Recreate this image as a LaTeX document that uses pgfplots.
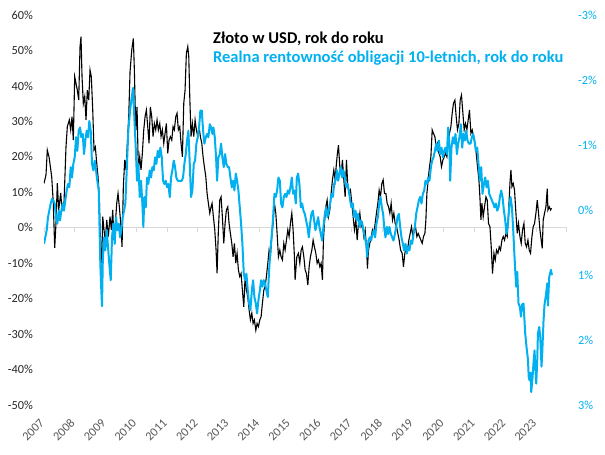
\documentclass[border=0pt]{standalone}
\usepackage{fontspec}
\setmainfont{Carlito}
\usepackage{graphicx}
\usepackage{pgfplots}
\pgfplotsset{compat=1.18}
\definecolor{xlblue}{HTML}{00B0F0}
\definecolor{zeroline}{HTML}{D9D9D9}
\definecolor{lblgray}{HTML}{595959}
\begin{document}
\begin{tikzpicture}
\pgfplotsset{
  base/.style={scale only axis, width=523bp, height=390bp,
    xmin=2007, xmax=2024,
    /pgf/number format/assume math mode=true,
    /pgf/number format/1000 sep={},
  },
}
% zero line with ticks
\begin{axis}[base, ymin=-50, ymax=60,
  axis x line=middle, axis y line=none,
  xtick={2007,...,2024}, xticklabels={},
  ytick=\empty,
  x axis line style={-, draw=zeroline, line width=1bp},
  xtick style={draw=zeroline, line width=1bp},
  major tick length=4bp, tick align=outside]
\coordinate (sw) at (rel axis cs:0,0);
\coordinate (ne) at (rel axis cs:1,1);
\end{axis}
% gold in USD (left axis)
\begin{axis}[base, ymin=-50, ymax=60,
  axis line style={draw=none},
  major tick length=0pt, tick style={draw=none},
  xtick={2007,...,2023},
  ytick={-50,-40,...,60},
  xticklabel={\rotatebox{45}{\pgfmathprintnumber{\tick}}},
  yticklabel={\pgfmathprintnumber{\tick}\%},
  xticklabel style={font=\fontsize{12.3bp}{14bp}\selectfont, text=lblgray, anchor=north east, inner sep=0pt, yshift=-13bp, xshift=1bp},
  yticklabel style={font=\fontsize{12.3bp}{14bp}\selectfont, text=black!85, anchor=east, inner sep=0pt, xshift=-11bp},
]
\addplot[black, line width=1.1bp] table {
2007.000 12.5
2007.065 14.9
2007.107 21.9
2007.163 20
2007.195 18
2007.250 14.4
2007.302 7
2007.348 -5.7
2007.390 1.3
2007.433 12.6
2007.478 5
2007.543 9.8
2007.585 5
2007.650 7
2007.715 22.8
2007.758 28.5
2007.823 30.4
2007.868 27.6
2007.911 31.3
2007.953 24.7
2007.998 42.6
2008.041 40.7
2008.083 38.8
2008.128 36
2008.171 51
2008.203 53.9
2008.236 42.6
2008.278 35
2008.324 37
2008.366 30.4
2008.408 38.8
2008.454 36
2008.496 44.5
2008.538 42.6
2008.584 33.2
2008.626 21.9
2008.668 22.8
2008.714 18.2
2008.756 14.4
2008.798 8.7
2008.821 0.3
2008.844 -6.3
2008.876 -10
2008.909 3.1
2008.951 -0.6
2008.993 -4.4
2009.039 2.2
2009.091 -2.5
2009.146 3.1
2009.189 -0.6
2009.234 5
2009.276 -3.5
2009.319 1.2
2009.364 6.9
2009.406 9.7
2009.449 5.9
2009.494 1.2
2009.537 -5.4
2009.579 11.6
2009.624 19.1
2009.667 16.3
2009.709 23.8
2009.754 31.3
2009.797 44
2009.852 50.1
2009.904 53.4
2009.937 44.5
2009.982 27.6
2010.024 34.1
2010.067 16.3
2010.112 20
2010.154 16.3
2010.197 21
2010.242 27.6
2010.285 31.3
2010.327 33.2
2010.372 28.5
2010.415 23.8
2010.457 34.1
2010.502 31.3
2010.545 25.7
2010.587 29.4
2010.632 27.6
2010.675 30.4
2010.717 27.6
2010.763 29.4
2010.805 25.7
2010.847 27.6
2010.893 23.8
2010.935 26.6
2010.977 29.4
2011.023 21
2011.065 24.7
2011.107 25.7
2011.153 24.7
2011.195 28.5
2011.237 27.6
2011.283 31.3
2011.325 32.3
2011.367 27.6
2011.413 28.5
2011.455 23.8
2011.498 20
2011.543 35.1
2011.585 38.8
2011.628 49.2
2011.673 51.1
2011.706 48.2
2011.738 37
2011.780 25.7
2011.823 29.4
2011.868 25.7
2011.911 30.4
2011.953 27.6
2011.998 25.7
2012.041 28.5
2012.083 25.7
2012.129 23.8
2012.171 20
2012.213 17.2
2012.259 14.4
2012.301 9.7
2012.343 6.9
2012.389 4.1
2012.431 5.9
2012.463 6.9
2012.506 3.1
2012.551 -0.6
2012.593 -6.3
2012.626 -12.9
2012.668 -0.6
2012.714 7.8
2012.756 8.7
2012.798 3.1
2012.844 -4.4
2012.886 1.2
2012.928 5
2012.974 5.9
2013.016 1.2
2013.059 -1.6
2013.104 -4.4
2013.146 -8.2
2013.189 -4.4
2013.234 -10
2013.276 -7.2
2013.319 -11.9
2013.364 -13.8
2013.406 -12.9
2013.449 -17.6
2013.494 -22.3
2013.537 -13.8
2013.579 -17.6
2013.624 -19.5
2013.667 -23.2
2013.709 -26
2013.755 -24.1
2013.797 -27
2013.839 -26
2013.885 -28.9
2013.927 -27
2013.969 -27.9
2014.015 -26
2014.057 -25.1
2014.099 -21.3
2014.145 -17.6
2014.187 -16.6
2014.229 -13.8
2014.275 -10
2014.317 -6.3
2014.359 -8.2
2014.405 -2.5
2014.447 1.2
2014.490 6.9
2014.535 4.1
2014.577 -1.6
2014.620 -8.2
2014.665 -6.3
2014.707 -8.2
2014.750 -9.1
2014.795 -4.4
2014.837 -6.3
2014.880 -3.5
2014.925 -0.6
2014.967 -2.5
2015.010 1.2
2015.055 4.1
2015.097 -0.6
2015.140 -8.2
2015.162 -14.7
2015.218 -8.2
2015.270 -7.2
2015.315 -10
2015.358 -6.3
2015.400 -5.4
2015.446 -8.2
2015.488 -11.9
2015.530 -12.9
2015.576 -16.2
2015.618 -11
2015.660 -8.2
2015.706 -6.3
2015.748 -3.5
2015.790 -5.4
2015.836 -7.2
2015.878 -10
2015.920 -9.1
2015.966 -11
2016.008 -10
2016.050 -14.7
2016.083 -3.5
2016.115 1.2
2016.161 5.9
2016.203 7.8
2016.246 3.1
2016.291 5
2016.333 9.7
2016.376 13.5
2016.421 16.3
2016.463 13.5
2016.506 18.2
2016.538 21
2016.571 23.3
2016.616 17.2
2016.658 15.3
2016.701 19.1
2016.746 13.5
2016.789 8.7
2016.831 19.1
2016.876 11.6
2016.919 9.7
2016.961 10.6
2017.006 6.9
2017.049 3.1
2017.091 -0.6
2017.137 2.2
2017.179 -3.5
2017.221 1.2
2017.267 4.1
2017.309 0.3
2017.351 1.2
2017.397 -2.5
2017.439 -0.6
2017.482 -5.4
2017.514 -11.5
2017.547 -6.3
2017.592 -4.4
2017.634 -2.5
2017.677 -0.6
2017.722 -1.6
2017.764 1.2
2017.806 4.1
2017.852 6.9
2017.894 10.6
2017.937 8.7
2017.982 12.5
2018.024 13.5
2018.067 9.7
2018.112 9.7
2018.154 6.9
2018.199 5.9
2018.242 4.1
2018.284 6.9
2018.329 2.2
2018.372 4.1
2018.414 1.2
2018.460 0.3
2018.502 -1.6
2018.545 -3.5
2018.590 -6.3
2018.642 -7.2
2018.684 -11
2018.730 -7.2
2018.772 -5.4
2018.814 -6.3
2018.860 -3.5
2018.902 -1.6
2018.945 0.3
2018.990 -2.5
2019.032 -0.6
2019.075 0.3
2019.120 -2.5
2019.162 -1.6
2019.205 -2.5
2019.250 -3.5
2019.293 -4.4
2019.335 -2.5
2019.381 -1.6
2019.413 2.2
2019.446 9.7
2019.488 13.5
2019.530 17.2
2019.576 20
2019.618 27.6
2019.660 26.6
2019.706 25.7
2019.748 22.8
2019.790 23.8
2019.836 21
2019.878 20
2019.920 17.2
2019.966 19.1
2020.008 20
2020.050 21
2020.096 20
2020.138 23.8
2020.180 26.6
2020.226 28.5
2020.268 32.3
2020.310 35.1
2020.356 36
2020.398 31.3
2020.440 27.6
2020.486 29.4
2020.528 36
2020.570 37.4
2020.616 32.3
2020.658 27.6
2020.701 29.4
2020.746 27.6
2020.788 30.4
2020.830 33.2
2020.876 26.6
2020.918 27.6
2020.961 25.7
2021.006 23.8
2021.049 21
2021.091 17.2
2021.137 13.5
2021.169 8.7
2021.202 2.2
2021.234 6.9
2021.276 3.1
2021.319 5.9
2021.365 8.7
2021.407 7.8
2021.449 1.2
2021.495 0.3
2021.537 -5.4
2021.579 -12.9
2021.625 -7.2
2021.667 -9.1
2021.709 -6.3
2021.755 -7.2
2021.797 -5.4
2021.839 -6.3
2021.885 -3.5
2021.927 -2.5
2021.969 -3.5
2022.015 -1.6
2022.057 -2.5
2022.100 4.1
2022.145 12.5
2022.177 16.3
2022.210 11.6
2022.252 12.5
2022.294 10.6
2022.340 4.1
2022.382 -1.6
2022.424 1.2
2022.470 -2.5
2022.512 -4.4
2022.555 -0.6
2022.600 1.2
2022.642 -4.4
2022.685 -5.4
2022.730 -3.5
2022.772 -6.3
2022.815 -7.2
2022.860 -2.5
2022.902 0.3
2022.945 1.2
2022.990 4.1
2023.033 7.8
2023.075 4.1
2023.120 -0.6
2023.162 -3.5
2023.195 -5.8
2023.227 2.2
2023.270 4.1
2023.315 5.9
2023.358 11
2023.380 5
2023.423 5.9
2023.465 5
2023.498 5.5
};
\end{axis}
% real 10y yield (right axis, reversed)
\begin{axis}[base, ymin=-3, ymax=3, y dir=reverse,
  axis line style={draw=none},
  major tick length=0pt, tick style={draw=none},
  xtick=\empty,
  ytick={-3,-2,...,3},
  yticklabel pos=right,
  yticklabel={\pgfmathprintnumber{\tick}\%},
  yticklabel style={font=\fontsize{12.3bp}{14bp}\selectfont, text=xlblue, anchor=west, inner sep=0pt, xshift=11bp},
]
\addplot[xlblue, line width=2bp, line join=round] table {
2007.000 0.52
2007.042 0.42
2007.088 0.31
2007.130 0.11
2007.172 0.01
2007.218 -0.1
2007.260 -0.17
2007.302 -0.15
2007.348 -0.1
2007.390 0.11
2007.433 0.21
2007.478 0.01
2007.520 0.16
2007.563 0.01
2007.608 -0.1
2007.650 0.01
2007.693 -0.15
2007.738 -0.3
2007.780 -0.4
2007.823 -0.35
2007.868 -0.66
2007.911 -0.5
2007.953 -0.71
2007.998 -0.81
2008.041 -1.12
2008.083 -0.91
2008.128 -1.22
2008.171 -1.27
2008.213 -1.12
2008.259 -1.17
2008.301 -0.86
2008.343 -1.07
2008.389 -1.22
2008.431 -1.12
2008.473 -1.37
2008.519 -1.22
2008.561 -0.71
2008.603 -0.61
2008.649 -0.76
2008.691 -0.61
2008.733 -0.45
2008.779 -0.3
2008.798 0.11
2008.831 0.83
2008.863 1.24
2008.886 1.48
2008.909 0.83
2008.951 0.42
2008.993 0.62
2009.039 0.31
2009.081 0.57
2009.123 0.83
2009.169 1.08
2009.211 0.42
2009.254 0.21
2009.299 0.52
2009.341 0.11
2009.384 0.31
2009.429 0.21
2009.472 0.42
2009.514 0.31
2009.559 0.11
2009.602 0.01
2009.644 -0.1
2009.689 -0.61
2009.741 -1.22
2009.797 -1.53
2009.852 -1.73
2009.894 -1.88
2009.937 -1.42
2009.982 -0.96
2010.024 -0.45
2010.067 -0.71
2010.112 -0.2
2010.154 -0.45
2010.197 -0.1
2010.229 0.26
2010.262 -0.2
2010.307 -0.04
2010.350 -0.5
2010.392 -0.4
2010.437 -0.61
2010.480 -0.5
2010.522 -0.66
2010.567 -0.61
2010.610 -0.81
2010.652 -0.71
2010.698 -0.91
2010.740 -0.81
2010.782 -0.96
2010.828 -0.81
2010.870 -0.45
2010.912 -0.4
2010.958 -0.45
2011.000 -0.35
2011.042 -0.4
2011.088 -0.2
2011.130 -0.5
2011.172 -0.61
2011.218 -0.76
2011.260 -0.66
2011.302 -0.5
2011.348 -0.45
2011.390 -0.45
2011.433 -0.45
2011.478 -0.45
2011.520 -0.5
2011.563 -0.71
2011.608 -0.86
2011.650 -1.07
2011.693 -1.22
2011.738 -0.71
2011.780 -0.2
2011.823 -0.3
2011.868 -0.71
2011.911 -0.76
2011.953 -1.02
2011.998 -1.12
2012.041 -1.27
2012.083 -1.53
2012.129 -1.53
2012.171 -1.22
2012.213 -1.02
2012.259 -1.12
2012.301 -1.17
2012.343 -1.12
2012.389 -1.32
2012.431 -1.27
2012.473 -1.17
2012.506 -1.27
2012.551 -1.12
2012.593 -0.81
2012.626 -0.45
2012.668 -0.81
2012.714 -0.86
2012.756 -1.02
2012.798 -0.81
2012.844 -0.66
2012.886 -0.86
2012.928 -0.71
2012.974 -0.66
2013.016 -0.66
2013.059 -0.5
2013.104 -0.35
2013.146 -0.45
2013.189 -0.3
2013.234 -0.56
2013.276 -0.45
2013.319 -0.3
2013.364 -0.04
2013.406 0.21
2013.449 0.52
2013.494 0.98
2013.537 1.08
2013.579 0.98
2013.624 1.24
2013.667 1.44
2013.709 1.54
2013.755 1.24
2013.797 1.08
2013.839 1.34
2013.885 1.44
2013.927 1.59
2013.969 1.39
2014.015 1.24
2014.057 1.08
2014.099 1.18
2014.145 1.08
2014.187 1.13
2014.229 1.24
2014.275 1.34
2014.317 0.93
2014.359 0.62
2014.405 0.37
2014.447 0.11
2014.490 -0.25
2014.535 -0.2
2014.577 -0.3
2014.620 -0.5
2014.665 -0.45
2014.707 -0.1
2014.750 -0.04
2014.795 -0.2
2014.837 -0.25
2014.880 -0.2
2014.925 -0.3
2014.967 -0.25
2015.010 -0.35
2015.055 -0.5
2015.097 -0.25
2015.140 -0.3
2015.185 -0.1
2015.218 -0.5
2015.260 -0.56
2015.302 -0.4
2015.348 -0.04
2015.390 -0.1
2015.433 0.01
2015.478 0.06
2015.520 0.16
2015.563 0.26
2015.608 0.42
2015.650 0.21
2015.693 0.06
2015.738 0.01
2015.780 0.16
2015.823 0.31
2015.868 0.21
2015.911 0.11
2015.953 0.26
2015.998 0.37
2016.041 0.47
2016.083 0.26
2016.129 0.06
2016.171 -0.04
2016.213 0.11
2016.259 0.01
2016.301 -0.1
2016.343 -0.25
2016.389 -0.2
2016.431 -0.4
2016.473 -0.45
2016.519 -0.61
2016.561 -0.45
2016.603 -0.56
2016.649 -0.66
2016.691 -0.5
2016.733 -0.61
2016.779 -0.5
2016.821 -0.35
2016.863 -0.4
2016.909 -0.3
2016.951 -0.15
2016.993 -0.04
2017.039 -0.1
2017.081 0.11
2017.124 0.01
2017.169 0.16
2017.211 0.06
2017.254 0.26
2017.299 0.16
2017.341 0.21
2017.384 0.31
2017.429 0.42
2017.472 0.52
2017.504 0.72
2017.546 0.47
2017.592 0.42
2017.634 0.47
2017.676 0.37
2017.722 0.31
2017.764 0.42
2017.806 0.21
2017.852 0.11
2017.894 -0.1
2017.937 -0.2
2017.982 -0.04
2018.024 0.06
2018.057 0.26
2018.099 0.42
2018.145 0.26
2018.187 0.37
2018.229 0.26
2018.275 0.37
2018.317 0.42
2018.359 0.47
2018.405 0.37
2018.447 0.26
2018.489 0.11
2018.535 0.06
2018.577 0.26
2018.620 0.42
2018.665 0.52
2018.707 0.62
2018.750 0.52
2018.795 0.67
2018.837 0.57
2018.880 0.62
2018.925 0.47
2018.967 0.52
2019.010 0.37
2019.055 0.26
2019.097 0.06
2019.140 -0.04
2019.185 -0.15
2019.227 -0.2
2019.270 -0.1
2019.315 -0.25
2019.358 -0.3
2019.400 -0.45
2019.446 -0.4
2019.488 -0.5
2019.530 -0.45
2019.576 -0.66
2019.618 -0.76
2019.660 -0.81
2019.706 -0.91
2019.748 -1.02
2019.790 -0.91
2019.836 -1.07
2019.878 -0.86
2019.920 -0.96
2019.966 -0.81
2020.008 -0.91
2020.050 -0.96
2020.096 -0.86
2020.138 -1.27
2020.180 -0.96
2020.203 -0.45
2020.245 -0.96
2020.291 -1.12
2020.333 -1.02
2020.375 -1.17
2020.421 -0.86
2020.463 -1.02
2020.505 -1.12
2020.551 -1.32
2020.593 -0.96
2020.636 -1.17
2020.681 -1.07
2020.723 -1.22
2020.766 -1.07
2020.811 -1.02
2020.863 -1.02
2020.908 -1.12
2020.951 -1.17
2020.993 -1.07
2021.039 -0.91
2021.081 -0.96
2021.124 -0.71
2021.169 -0.45
2021.211 -0.66
2021.254 -0.25
2021.299 -0.4
2021.341 -0.5
2021.384 -0.35
2021.429 -0.45
2021.472 -0.25
2021.514 -0.2
2021.559 -0.15
2021.602 -0.1
2021.644 -0.04
2021.689 -0.1
2021.732 0.01
2021.774 -0.04
2021.819 -0.2
2021.862 -0.3
2021.904 -0.2
2021.950 0.01
2021.992 0.16
2022.034 0.37
2022.080 0.21
2022.122 -0.04
2022.165 -0.2
2022.210 -0.04
2022.252 0.31
2022.294 0.72
2022.317 0.93
2022.350 1.18
2022.382 0.95
2022.424 1.44
2022.470 1.49
2022.502 1.64
2022.545 1.45
2022.587 1.44
2022.642 1.9
2022.685 2.11
2022.730 2.3
2022.756 2.57
2022.782 2.62
2022.815 2.5
2022.838 2.8
2022.880 2.57
2022.919 2.3
2022.945 2.16
2022.968 2.4
2023.000 2.67
2023.033 2.3
2023.055 1.9
2023.097 1.8
2023.130 1.95
2023.172 2.41
2023.195 2.2
2023.237 1.7
2023.270 1.45
2023.315 1.31
2023.358 1.13
2023.380 1.47
2023.406 1.2
2023.423 1.03
2023.478 0.92
2023.511 1.0
};
\node[anchor=base west, inner sep=0pt, font=\fontsize{16.5bp}{18bp}\selectfont\bfseries, text=black] at (rel axis cs:0.323,0.926) {Złoto w USD, rok do roku};
\node[anchor=base west, inner sep=0pt, font=\fontsize{16.5bp}{18bp}\selectfont\bfseries, text=xlblue] at (rel axis cs:0.323,0.877) {Realna rentowność obligacji 10-letnich, rok do roku};
\end{axis}
\path ([xshift=-44bp,yshift=-49bp]sw) rectangle ([xshift=38bp,yshift=15bp]ne);
\end{tikzpicture}
\end{document}
